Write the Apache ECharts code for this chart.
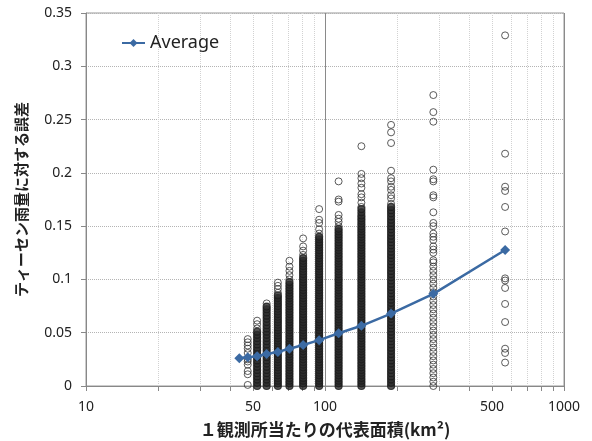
<!DOCTYPE html>
<html>
<head>
<meta charset="utf-8">
<script src="https://cdn.jsdelivr.net/npm/echarts@6/dist/echarts.min.js"></script>
<style>
  html, body { margin: 0; padding: 0; background: #fff; }
  #main { width: 592px; height: 441px; }
</style>
</head>
<body>
<div id="main"></div>
<script>
// 1観測所当たりの代表面積(km2) ごとの誤差（散布点）
var colX = [47.5, 52, 57, 63.5, 71, 81, 94.5, 114, 142, 189, 284, 567];

var err47 = [0.001, 0.011, 0.014, 0.02, 0.023, 0.025, 0.031, 0.035, 0.038, 0.041, 0.044];
var err52 = [0, 0.003, 0.006, 0.009, 0.012, 0.015, 0.018, 0.021, 0.024, 0.027, 0.03, 0.033, 0.036, 0.039, 0.042, 0.045, 0.048, 0.051, 0.054, 0.058, 0.0613];
var err57 = [0, 0.003, 0.006, 0.009, 0.012, 0.015, 0.018, 0.021, 0.024, 0.027, 0.03, 0.033, 0.036, 0.039, 0.042, 0.045, 0.048, 0.051, 0.054, 0.057, 0.06, 0.063, 0.066, 0.069, 0.072, 0.0745, 0.0775];
var err63 = [0, 0.0025, 0.005, 0.0075, 0.01, 0.0125, 0.015, 0.0175, 0.02, 0.0225, 0.025, 0.0275, 0.03, 0.0325, 0.035, 0.0375, 0.04, 0.0425, 0.045, 0.0475, 0.05, 0.0525, 0.055, 0.0575, 0.06, 0.0625, 0.065, 0.0675, 0.07, 0.0725, 0.075, 0.0775, 0.08, 0.0825, 0.085, 0.0875, 0.091, 0.094, 0.097];
var err71 = [0, 0.0025, 0.005, 0.0075, 0.01, 0.0125, 0.015, 0.0175, 0.02, 0.0225, 0.025, 0.0275, 0.03, 0.0325, 0.035, 0.0375, 0.04, 0.0425, 0.045, 0.0475, 0.05, 0.0525, 0.055, 0.0575, 0.06, 0.0625, 0.065, 0.0675, 0.07, 0.0725, 0.075, 0.0775, 0.08, 0.0825, 0.085, 0.0875, 0.09, 0.0925, 0.095, 0.0975, 0.1, 0.104, 0.108, 0.112, 0.1175];
var err81 = [0, 0.0025, 0.005, 0.0075, 0.01, 0.0125, 0.015, 0.0175, 0.02, 0.0225, 0.025, 0.0275, 0.03, 0.0325, 0.035, 0.0375, 0.04, 0.0425, 0.045, 0.0475, 0.05, 0.0525, 0.055, 0.0575, 0.06, 0.0625, 0.065, 0.0675, 0.07, 0.0725, 0.075, 0.0775, 0.08, 0.0825, 0.085, 0.0875, 0.09, 0.0925, 0.095, 0.0975, 0.1, 0.1025, 0.105, 0.1075, 0.11, 0.1125, 0.115, 0.1175, 0.12, 0.123, 0.127, 0.131, 0.1385];
var err94 = [0, 0.0025, 0.005, 0.0075, 0.01, 0.0125, 0.015, 0.0175, 0.02, 0.0225, 0.025, 0.0275, 0.03, 0.0325, 0.035, 0.0375, 0.04, 0.0425, 0.045, 0.0475, 0.05, 0.0525, 0.055, 0.0575, 0.06, 0.0625, 0.065, 0.0675, 0.07, 0.0725, 0.075, 0.0775, 0.08, 0.0825, 0.085, 0.0875, 0.09, 0.0925, 0.095, 0.0975, 0.1, 0.1025, 0.105, 0.1075, 0.11, 0.1125, 0.115, 0.1175, 0.12, 0.1225, 0.125, 0.1275, 0.13, 0.1325, 0.135, 0.1375, 0.14, 0.143, 0.147, 0.153, 0.156, 0.166];
var err114 = [0, 0.0025, 0.005, 0.0075, 0.01, 0.0125, 0.015, 0.0175, 0.02, 0.0225, 0.025, 0.0275, 0.03, 0.0325, 0.035, 0.0375, 0.04, 0.0425, 0.045, 0.0475, 0.05, 0.0525, 0.055, 0.0575, 0.06, 0.0625, 0.065, 0.0675, 0.07, 0.0725, 0.075, 0.0775, 0.08, 0.0825, 0.085, 0.0875, 0.09, 0.0925, 0.095, 0.0975, 0.1, 0.1025, 0.105, 0.1075, 0.11, 0.1125, 0.115, 0.1175, 0.12, 0.1225, 0.125, 0.1275, 0.13, 0.1325, 0.135, 0.1375, 0.14, 0.1425, 0.145, 0.1475, 0.15, 0.154, 0.157, 0.1605, 0.173, 0.175, 0.192];
var err142 = [0, 0.0025, 0.005, 0.0075, 0.01, 0.0125, 0.015, 0.0175, 0.02, 0.0225, 0.025, 0.0275, 0.03, 0.0325, 0.035, 0.0375, 0.04, 0.0425, 0.045, 0.0475, 0.05, 0.0525, 0.055, 0.0575, 0.06, 0.0625, 0.065, 0.0675, 0.07, 0.0725, 0.075, 0.0775, 0.08, 0.0825, 0.085, 0.0875, 0.09, 0.0925, 0.095, 0.0975, 0.1, 0.1025, 0.105, 0.1075, 0.11, 0.1125, 0.115, 0.1175, 0.12, 0.1225, 0.125, 0.1275, 0.13, 0.1325, 0.135, 0.1375, 0.14, 0.1425, 0.145, 0.1475, 0.15, 0.1525, 0.155, 0.1575, 0.16, 0.163, 0.166, 0.168, 0.172, 0.177, 0.18, 0.186, 0.19, 0.195, 0.199, 0.225];
var err189 = [0, 0.003, 0.006, 0.009, 0.012, 0.015, 0.018, 0.021, 0.024, 0.027, 0.03, 0.033, 0.036, 0.039, 0.042, 0.045, 0.048, 0.051, 0.054, 0.057, 0.06, 0.063, 0.066, 0.069, 0.072, 0.075, 0.078, 0.081, 0.084, 0.087, 0.09, 0.093, 0.096, 0.099, 0.102, 0.105, 0.108, 0.111, 0.114, 0.117, 0.12, 0.123, 0.126, 0.129, 0.132, 0.135, 0.138, 0.141, 0.144, 0.147, 0.15, 0.153, 0.156, 0.159, 0.162, 0.165, 0.168, 0.171, 0.176, 0.179, 0.184, 0.187, 0.192, 0.195, 0.202, 0.228, 0.238, 0.245];
var err284 = [0, 0.004, 0.008, 0.012, 0.016, 0.02, 0.024, 0.028, 0.032, 0.036, 0.04, 0.044, 0.048, 0.052, 0.056, 0.06, 0.064, 0.068, 0.072, 0.076, 0.08, 0.084, 0.088, 0.092, 0.096, 0.1, 0.104, 0.108, 0.112, 0.116, 0.118, 0.125, 0.128, 0.131, 0.137, 0.14, 0.143, 0.15, 0.153, 0.163, 0.177, 0.179, 0.192, 0.194, 0.203, 0.248, 0.257, 0.273];
var err567 = [0.022, 0.031, 0.035, 0.06, 0.077, 0.092, 0.099, 0.101, 0.145, 0.168, 0.183, 0.187, 0.218, 0.329];

var colErr = [err47, err52, err57, err63, err71, err81, err94, err114, err142, err189, err284, err567];

// Average
var avgX = [43.8, 47.5, 52, 57, 63.5, 71, 81, 94.5, 114, 142, 189, 284, 567];
var avgY = [0.026, 0.027, 0.028, 0.030, 0.032, 0.035, 0.0385, 0.043, 0.0495, 0.0565, 0.068, 0.0865, 0.1276];

// 軸ラベル
var extraLabels = [50, 500];
var minorTicks = [20, 30, 40, 50, 60, 70, 80, 90, 200, 300, 400, 500, 600, 700, 800, 900];

var yTicks = { min: 0, max: 0.35, interval: 0.05 };

// 長く連なった密な点（6点以上）は黒い帯に見せる
var pts = [];
colX.forEach(function (x, i) {
  var ys = colErr[i];
  var runStart = 0;
  var dense = ys.map(function () { return false; });
  for (var k = 1; k <= ys.length; k++) {
    if (k === ys.length || ys[k] - ys[k - 1] > 0.0031) {
      if (k - runStart >= 6) {
        for (var m = runStart; m < k - 1; m++) dense[m] = true;
      }
      runStart = k;
    }
  }
  ys.forEach(function (y, k) {
    pts.push({
      value: [x, y],
      itemStyle: dense[k]
        ? { color: '#2a2a2a', borderWidth: 1.2, borderColor: '#1c1c1c' }
        : { color: 'rgba(0,0,0,0)', borderWidth: 1, borderColor: '#333' }
    });
  });
});
var avgPts = avgX.map(function (x, i) { return [x, avgY[i]]; });

var chart = echarts.init(document.getElementById('main'));
var labelMargin = 14;
var txt = '#222';

var option = {
  animation: false,
  grid: {
    left: 86, right: 28, top: 13, bottom: 55, outerBoundsMode: 'none',
    show: true, borderColor: '#999', borderWidth: 1
  },
  legend: {
    data: ['Average'], left: 116, top: 29, itemWidth: 23, itemHeight: 10, itemGap: 5,
    textStyle: { fontSize: 18, color: txt, fontFamily: 'Noto Sans' }
  },
  xAxis: {
    type: 'log', logBase: 10, min: 10, max: 1000,
    name: '１観測所当たりの代表面積(km²)', nameLocation: 'middle', nameGap: 35,
    nameTextStyle: { fontSize: 17, fontWeight: 'bold', color: txt, fontFamily: 'Noto Sans CJK JP' },
    axisLine: { show: true, lineStyle: { color: '#888' } },
    axisTick: { show: true, length: 5, lineStyle: { color: '#888' } },
    axisLabel: { fontSize: 14, color: txt, margin: labelMargin, fontFamily: 'Noto Sans',
      formatter: function (v) { return String(Math.round(v)); } },
    splitLine: { show: true, lineStyle: { color: '#8a8a8a' } }
  },
  yAxis: {
    type: 'value', min: yTicks.min, max: yTicks.max, interval: yTicks.interval,
    name: 'ティーセン雨量に対する誤差', nameLocation: 'middle', nameGap: 57,
    nameTextStyle: { fontSize: 15, fontWeight: 'bold', color: txt, fontFamily: 'Noto Sans CJK JP' },
    axisLine: { show: true, lineStyle: { color: '#888' } },
    axisTick: { show: true, length: 5, lineStyle: { color: '#888' } },
    axisLabel: { fontSize: 14, color: txt, margin: 14, fontFamily: 'Noto Sans' },
    splitLine: { show: true, lineStyle: { color: '#b4b4b4', type: [1, 1] } }
  },
  series: [
    {
      type: 'scatter', name: 'points', data: pts, symbol: 'circle', symbolSize: 7,
      large: false, silent: true, z: 2,
      itemStyle: { color: 'rgba(0,0,0,0)', borderColor: '#333', borderWidth: 1 }
    },
    {
      type: 'line', name: 'Average', data: avgPts, symbol: 'diamond', symbolSize: 10,
      lineStyle: { color: '#3b6aa3', width: 2.5 }, itemStyle: { color: '#3b6aa3' }, z: 3
    }
  ]
};
chart.setOption(option);

// 補助目盛（20,30,...）と 50, 500 のラベル
var y0 = chart.convertToPixel({ yAxisIndex: 0 }, yTicks.min);
var y1 = chart.convertToPixel({ yAxisIndex: 0 }, yTicks.max);
var els = [];
minorTicks.forEach(function (v) {
  var x = Math.round(chart.convertToPixel({ xAxisIndex: 0 }, v)) + 0.5;
  els.push({ type: 'line', z: 1, silent: true,
    shape: { x1: x, y1: y1, x2: x, y2: y0 },
    style: { stroke: '#d2d2d2', lineWidth: 1, lineDash: [1, 1] } });
  els.push({ type: 'line', z: 1, silent: true,
    shape: { x1: x, y1: y0, x2: x, y2: y0 + 5 },
    style: { stroke: '#888', lineWidth: 1 } });
});
extraLabels.forEach(function (v) {
  var x = chart.convertToPixel({ xAxisIndex: 0 }, v);
  els.push({ type: 'text', z: 1, silent: true,
    style: { text: String(v), x: x, y: y0 + labelMargin, fill: txt,
      font: '14px "Noto Sans"', align: 'center', verticalAlign: 'top' } });
});
chart.setOption({ graphic: els });
</script>
</body>
</html>
